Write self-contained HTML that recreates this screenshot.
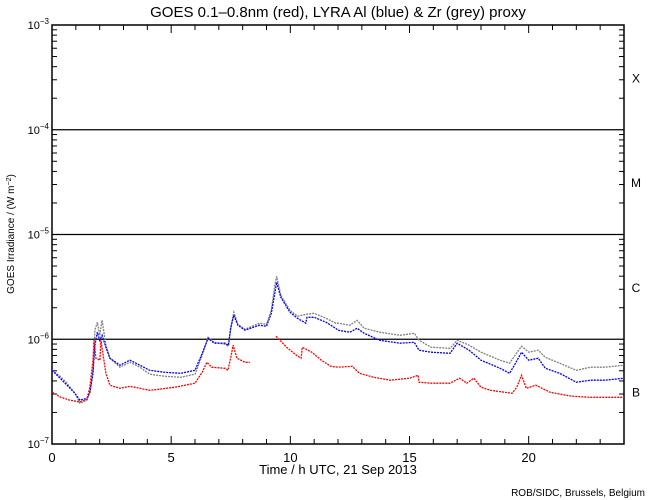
<!DOCTYPE html>
<html><head><meta charset="utf-8"><style>
body{margin:0;background:#fff;width:650px;height:500px;overflow:hidden}
svg{display:block;font-family:"Liberation Sans",sans-serif}
</style></head><body>
<svg id="chart" width="650" height="500">
<text x="338" y="17" text-anchor="middle" font-size="15">GOES 0.1–0.8nm (red), LYRA Al (blue) &amp; Zr (grey) proxy</text>
<text x="338" y="474" text-anchor="middle" font-size="13">Time / h UTC, 21 Sep 2013</text>
<text x="14" y="234" text-anchor="middle" font-size="10" transform="rotate(-90 14 234)">GOES Irradiance / (W m<tspan baseline-shift="super" font-size="7">−2</tspan>)</text>
<text x="645" y="496" text-anchor="end" font-size="10">ROB/SIDC, Brussels, Belgium</text>
<g id="axes"></g>
<g id="series"></g>
</svg>
<script>
const xTicks=[0,5,10,15,20];
const yDecades=[-7,-6,-5,-4,-3];
const classes=[["X",-3.5],["M",-4.5],["C",-5.5],["B",-6.5]];
const red=[[0,-6.503],[0.34,-6.551],[0.75,-6.582],[1.17,-6.599],[1.47,-6.573],[1.59,-6.455],[1.72,-6.2],[1.76,-6.01],[1.84,-6.181],[2.01,-6.2],[2.05,-6.01],[2.26,-6.325],[2.43,-6.439],[2.85,-6.468],[3.27,-6.449],[3.69,-6.468],[4.1,-6.487],[4.5,-6.477],[5.16,-6.458],[5.58,-6.439],[6.0,-6.42],[6.3,-6.315],[6.5,-6.22],[6.7,-6.267],[7.26,-6.277],[7.38,-6.296],[7.5,-6.172],[7.6,-6.057],[7.76,-6.181],[8.1,-6.22],[8.3,-6.22],null,[9.4,-5.971],[9.84,-6.076],[10.26,-6.153],[10.45,-6.181],[10.5,-6.076],[10.9,-6.124],[11.3,-6.2],[11.7,-6.258],[12.0,-6.267],[12.6,-6.258],[12.9,-6.325],[13.5,-6.363],[14.2,-6.391],[15.0,-6.372],[15.36,-6.344],[15.4,-6.41],[15.9,-6.42],[16.7,-6.42],[17.1,-6.372],[17.4,-6.42],[17.7,-6.372],[18.0,-6.458],[18.4,-6.487],[19.3,-6.516],[19.5,-6.458],[19.7,-6.344],[19.9,-6.468],[20.3,-6.439],[20.9,-6.506],[21.8,-6.544],[22.6,-6.554],[23.5,-6.554],[24,-6.554]];
const blue=[[0,-6.296],[0.34,-6.372],[0.63,-6.439],[0.96,-6.516],[1.17,-6.582],[1.47,-6.563],[1.59,-6.506],[1.72,-6.325],[1.8,-6.057],[1.9,-5.933],[2.0,-6.01],[2.1,-5.962],[2.26,-6.076],[2.43,-6.181],[2.85,-6.248],[3.27,-6.2],[3.69,-6.248],[4.1,-6.296],[4.7,-6.315],[5.4,-6.325],[6.0,-6.296],[6.3,-6.134],[6.55,-5.99],[6.8,-6.038],[7.26,-6.038],[7.4,-6.057],[7.5,-5.885],[7.63,-5.771],[7.8,-5.866],[8.1,-5.914],[8.7,-5.866],[9.0,-5.876],[9.2,-5.752],[9.35,-5.561],[9.43,-5.456],[9.6,-5.599],[9.98,-5.742],[10.3,-5.8],[10.65,-5.847],[10.7,-5.79],[11.0,-5.79],[11.5,-5.838],[11.9,-5.895],[12.0,-5.914],[12.5,-5.933],[12.8,-5.895],[13.1,-5.943],[13.75,-6.01],[14.6,-6.038],[15.2,-6.029],[15.4,-6.105],[15.9,-6.124],[16.7,-6.134],[17.0,-6.038],[17.5,-6.105],[18.0,-6.2],[18.8,-6.277],[19.2,-6.325],[19.4,-6.248],[19.7,-6.124],[20.0,-6.2],[20.4,-6.181],[20.7,-6.277],[21.3,-6.325],[22.0,-6.41],[22.6,-6.391],[23.2,-6.391],[24,-6.372]];
const grey=[[0,-6.296],[0.34,-6.353],[0.63,-6.42],[0.96,-6.516],[1.17,-6.611],[1.47,-6.582],[1.59,-6.506],[1.72,-6.296],[1.8,-5.914],[1.9,-5.838],[2.0,-5.962],[2.1,-5.819],[2.26,-6.057],[2.43,-6.181],[2.85,-6.267],[3.27,-6.22],[3.69,-6.267],[4.1,-6.334],[4.7,-6.353],[5.4,-6.363],[6.0,-6.334],[6.3,-6.153],[6.55,-5.981],[6.8,-6.029],[7.26,-6.048],[7.4,-6.067],[7.5,-5.895],[7.63,-5.742],[7.8,-5.857],[8.1,-5.905],[8.7,-5.847],[9.0,-5.857],[9.2,-5.723],[9.35,-5.484],[9.43,-5.399],[9.6,-5.58],[9.98,-5.723],[10.3,-5.78],[10.7,-5.761],[11.0,-5.752],[11.5,-5.8],[11.9,-5.847],[12.0,-5.847],[12.5,-5.866],[12.8,-5.819],[13.1,-5.895],[13.75,-5.933],[14.6,-5.962],[15.2,-5.943],[15.4,-6.01],[15.9,-6.076],[16.7,-6.086],[17.0,-6.01],[17.5,-6.057],[18.0,-6.124],[18.8,-6.2],[19.2,-6.229],[19.4,-6.162],[19.7,-6.067],[20.0,-6.124],[20.4,-6.105],[20.7,-6.172],[21.3,-6.229],[22.0,-6.296],[22.6,-6.267],[23.2,-6.267],[24,-6.248]];

const L=52,R=624,T=25,B=444;
const xs=h=>L+(R-L)*h/24;
const ys=lg=>B-(B-T)*(lg+7)/4;
const NS="http://www.w3.org/2000/svg";
const ax=document.getElementById('axes'), se=document.getElementById('series');
function mk(tag,at,parent){const e=document.createElementNS(NS,tag);for(const k in at)e.setAttribute(k,at[k]);parent.appendChild(e);return e;}

const frame=mk('rect',{x:L,y:T,width:R-L,height:B-T,fill:'none',stroke:'#000','stroke-width':1.5},ax);


for(let h=0;h<=24;h++){
  const len=h%5===0?8:5;
  const t1=mk('line',{x1:xs(h),x2:xs(h),y1:B,y2:B-len,stroke:'#000'},ax);
  
  
  const t2=mk('line',{x1:xs(h),x2:xs(h),y1:T,y2:T+len,stroke:'#000'},ax);
  
  
}
xTicks.forEach(h=>{
  const t=mk('text',{x:xs(h),y:B+18,'text-anchor':'middle','font-size':13},ax);t.textContent=h;
  
  
});
yDecades.forEach(d=>{
  const t=mk('text',{x:L-3,y:ys(d)+4,'text-anchor':'end','font-size':11},ax);
  t.innerHTML='10<tspan dy="-5" font-size="8">−'+(-d)+'</tspan>';
  
  
  if(d>-7&&d<-3){
    const g=mk('line',{x1:L,x2:R,y1:ys(d),y2:ys(d),stroke:'#000','stroke-width':1.3},ax);
    
    
  }
  if(d<-3)for(let m=2;m<=9;m++){
    const y=ys(d+Math.log10(m));
    const a=mk('line',{x1:L,x2:L+5,y1:y,y2:y,stroke:'#000'},ax);
    
    
    const b=mk('line',{x1:R,x2:R-5,y1:y,y2:y,stroke:'#000'},ax);
    
    
  }
});
classes.forEach(c=>{
  const t=mk('text',{x:636,y:ys(c[1])+5,'text-anchor':'middle','font-size':12},ax);t.textContent=c[0];
  
  
});
function draw(data,color,name){
  let segs=[],cur=[];
  data.forEach(p=>{if(p===null){if(cur.length)segs.push(cur);cur=[];}else cur.push(xs(p[0]).toFixed(1)+','+ys(p[1]).toFixed(1));});
  if(cur.length)segs.push(cur);
  segs.forEach(s=>{
    const pl=mk('polyline',{points:s.join(' '),fill:'none',stroke:color,'stroke-width':1.3,'stroke-dasharray':'2 1'},se);
    
    
  });
}
draw(grey,'#808080','zr-proxy-series');
draw(blue,'#0000ff','al-proxy-series');
draw(red,'#ff0000','goes-series');
</script>
</body></html>
